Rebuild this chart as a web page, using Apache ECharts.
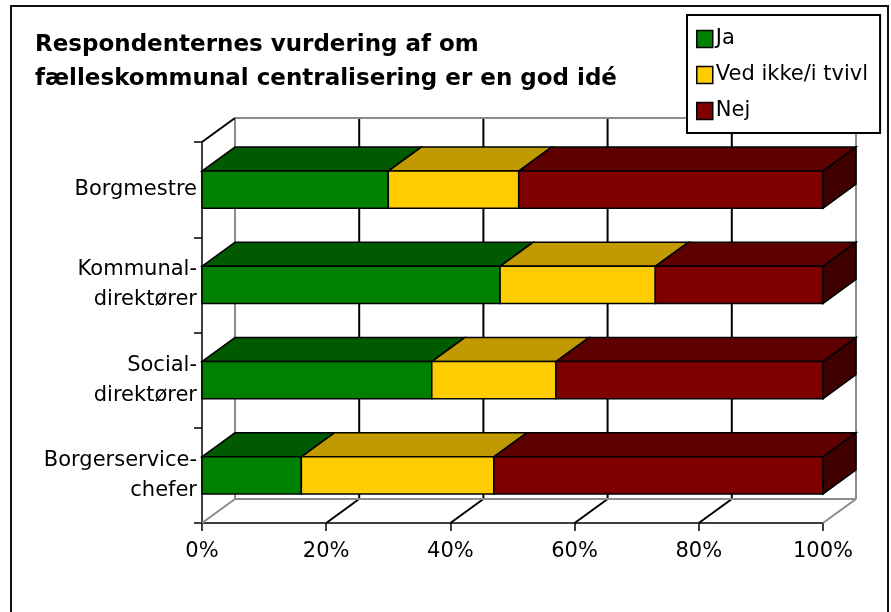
<!DOCTYPE html>
<html>
<head>
<meta charset="utf-8">
<script src="https://cdn.jsdelivr.net/npm/echarts@6/dist/echarts.min.js"></script>
<style>
  html, body { margin: 0; padding: 0; background: #fff; }
  #chart { width: 891px; height: 612px; }
</style>
</head>
<body>
<div id="chart"></div>
<script>
// data (percent of respondents)
const categories = ["Borgmestre", "Kommunal-\ndirektører", "Social-\ndirektører", "Borgerservice-\nchefer"];
const seriesNames = ["Ja", "Ved ikke/i tvivl", "Nej"];
const ja = [30, 48, 37, 16];
const vedIkke = [21, 25, 20, 31];
const nej = [49, 27, 43, 53];
const xTicks = [0, 20, 40, 60, 80, 100];

const font = '"DejaVu Sans", sans-serif';
const DX = 33, DY = -24; // 3d depth offset

const faces = [
  { front: "#008000", top: "#005a00", side: "#003c00" },
  { front: "#ffcc00", top: "#c09a00", side: "#806600" },
  { front: "#800000", top: "#5e0000", side: "#400000" }
];

// stack the three answers into [cat, start, end]
const values = [ja, vedIkke, nej];
const stacked = values.map((arr, si) => arr.map((v, ci) => {
  let start = 0;
  for (let k = 0; k < si; k++) start += values[k][ci];
  return [ci, start, start + v];
}));

function barItem(si) {
  return function (params, api) {
    const cat = api.value(0);
    const p0 = api.coord([api.value(1), cat]);
    const p1 = api.coord([api.value(2), cat]);
    const h = api.size([0, 1])[1] * 0.39;
    const yt = p0[1] - h / 2, yb = p0[1] + h / 2;
    const st = { stroke: "#000", lineWidth: 1.5 };
    const c = faces[si];
    const kids = [
      { type: "polygon", shape: { points: [[p0[0], yt], [p1[0], yt], [p1[0] + DX, yt + DY], [p0[0] + DX, yt + DY]] },
        style: Object.assign({ fill: c.top }, st) },
      { type: "rect", shape: { x: p0[0], y: yt, width: p1[0] - p0[0], height: h },
        style: Object.assign({ fill: c.front }, st) }
    ];
    if (si === values.length - 1) {
      kids.push({ type: "polygon", shape: { points: [[p1[0], yt], [p1[0] + DX, yt + DY], [p1[0] + DX, yb + DY], [p1[0], yb]] },
        style: Object.assign({ fill: c.side }, st) });
    }
    return { type: "group", children: kids };
  };
}

function frameItem(params, api) {
  const cs = params.coordSys;
  const top = cs.y, bottom = cs.y + cs.height, left = cs.x, right = cs.x + cs.width;
  const grey = { stroke: "#8c8c8c", lineWidth: 2 };
  const black = { stroke: "#000", lineWidth: 2 };
  const kids = [];
  xTicks.forEach((t, i) => {
    const x = api.coord([t, 0])[0];
    const st = (i === 0 || i === xTicks.length - 1) ? grey : black;
    kids.push({ type: "line", shape: { x1: x, y1: bottom, x2: x + DX, y2: bottom + DY }, style: st });
    kids.push({ type: "line", shape: { x1: x + DX, y1: bottom + DY, x2: x + DX, y2: top + DY }, style: st });
  });
  kids.push({ type: "line", shape: { x1: left + DX, y1: bottom + DY, x2: right + DX, y2: bottom + DY }, style: grey });
  kids.push({ type: "line", shape: { x1: left + DX, y1: top + DY, x2: right + DX, y2: top + DY }, style: grey });
  kids.push({ type: "line", shape: { x1: left, y1: top, x2: left + DX, y2: top + DY }, style: black });
  return { type: "group", children: kids };
}

const chart = echarts.init(document.getElementById("chart"));
chart.setOption({
  backgroundColor: "#fff",
  animation: false,
  graphic: [{
    type: "rect", left: 10, top: 5, z: -10,
    shape: { width: 877, height: 640 },
    style: { fill: "#fff", stroke: "#111", lineWidth: 2 }
  }],
  title: {
    text: "Respondenternes vurdering af om\nfælleskommunal centralisering er en god idé",
    left: 35, top: 28, padding: 0,
    textStyle: { fontFamily: font, fontSize: 23, fontWeight: "bold", lineHeight: 34, color: "#000" }
  },
  legend: {
    data: seriesNames,
    orient: "vertical",
    left: 687, top: 15,
    padding: [13, 12, 11, 9],
    itemGap: 14,
    itemWidth: 16, itemHeight: 17,
    icon: "rect",
    backgroundColor: "#fff",
    borderColor: "#000", borderWidth: 2,
    itemStyle: { borderColor: "#000", borderWidth: 1.5 },
    textStyle: { fontFamily: font, fontSize: 21, lineHeight: 22, color: "#000", padding: [0, 0, 0, -2] }
  },
  grid: { left: 202, right: 68, top: 142, bottom: 89 },
  xAxis: {
    type: "value", min: 0, max: 100, interval: 20,
    axisLine: { show: true, lineStyle: { color: "#000", width: 1.5 } },
    axisTick: { show: true, length: 8, lineStyle: { color: "#000", width: 1.5 } },
    splitLine: { show: false },
    axisLabel: { formatter: "{value}%", fontFamily: font, fontSize: 21, color: "#000", margin: 18 }
  },
  yAxis: {
    type: "category", data: categories, inverse: true,
    axisLine: { show: true, lineStyle: { color: "#000", width: 1.5 } },
    axisTick: { show: true, length: 8, lineStyle: { color: "#000", width: 1.5 } },
    axisLabel: { fontFamily: font, fontSize: 21, lineHeight: 30, color: "#000", margin: 5, align: "right" }
  },
  series: [
    { type: "custom", name: "frame", renderItem: frameItem, data: [[0, 0]], encode: { x: 1, y: 0 }, z: 1, silent: true },
    ...seriesNames.map((name, si) => ({
      type: "custom", name: name,
      renderItem: barItem(si),
      itemStyle: { color: faces[si].front },
      encode: { x: [1, 2], y: 0 },
      data: stacked[si],
      z: 2
    }))
  ]
});
</script>
</body>
</html>
